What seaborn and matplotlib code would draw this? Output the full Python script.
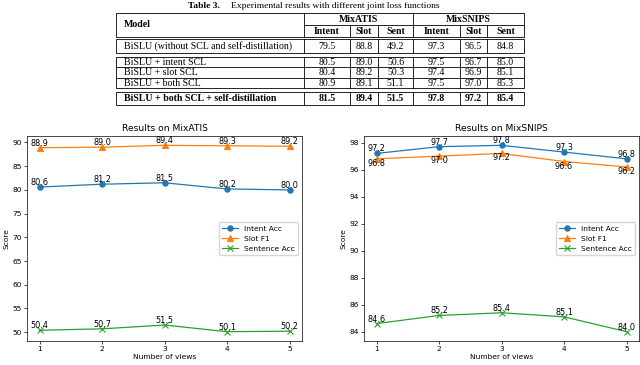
"""
Table 3 + results vs. number of views (MixATIS / MixSNIPS)
"""
import matplotlib
matplotlib.use("Agg")
import matplotlib.pyplot as plt
from matplotlib.patches import Rectangle
import seaborn as sns

# ---- table data ----
table_caption_head = "Table 3."
table_caption = "Experimental results with different joint loss functions"
table_groups = ["MixATIS", "MixSNIPS"]
table_metrics = ["Intent", "Slot", "Sent"]
table_models = [
    "BiSLU (without SCL and self-distillation)",
    "BiSLU + intent SCL",
    "BiSLU + slot SCL",
    "BiSLU + both SCL",
    "BiSLU + both SCL + self-distillation",
]
row_base = [79.5, 88.8, 49.2, 97.3, 96.5, 84.8]
row_intent_scl = [80.5, 89.0, 50.6, 97.5, 96.7, 85.0]
row_slot_scl = [80.4, 89.2, 50.3, 97.4, 96.9, 85.1]
row_both_scl = [80.9, 89.1, 51.1, 97.5, 97.0, 85.3]
row_full = [81.5, 89.4, 51.5, 97.8, 97.2, 85.4]

# ---- line chart data ----
views = [1, 2, 3, 4, 5]
atis_intent = [80.6, 81.2, 81.5, 80.2, 80.0]
atis_slot = [88.9, 89.0, 89.4, 89.3, 89.2]
atis_sent = [50.4, 50.7, 51.5, 50.1, 50.2]
snips_intent = [97.2, 97.7, 97.8, 97.3, 96.8]
snips_slot = [96.8, 97.0, 97.2, 96.6, 96.2]
snips_sent = [84.6, 85.2, 85.4, 85.1, 84.0]

W, H = 640, 365
fig = plt.figure(figsize=(W / 100, H / 100), dpi=100)

# ---------------- table (drawn in pixel coordinates) ----------------
tab = fig.add_axes([0, 0, 1, 1])
tab.set_xlim(0, W)
tab.set_ylim(H, 0)
tab.axis("off")

serif = "Liberation Serif"
tfs = 7.1
lw = 0.6
col_x = [116, 304, 350, 378, 413, 460, 487, 524]
head_top, head_mid, head_bot = 13, 25, 36.5
# each section is its own box -> looks like double rules between them
sections = [[39, 53], [56.5, 67.1, 77.7, 88.3], [91.5, 105]]
values = [row_base, row_intent_scl, row_slot_scl, row_both_scl, row_full]

tab.text(220, 5.5, table_caption_head, ha="right", va="center",
         family=serif, fontsize=6.8, weight="bold")
tab.text(231, 5.5, table_caption, ha="left", va="center",
         family=serif, fontsize=6.8)


def box(y0, y1):
    tab.add_patch(Rectangle((col_x[0], y0), col_x[-1] - col_x[0], y1 - y0,
                            fill=False, lw=lw, ec="black"))


# header
box(head_top, head_bot)
tab.plot([col_x[1], col_x[1]], [head_top, head_bot], color="black", lw=lw)
tab.plot([col_x[4], col_x[4]], [head_top, head_bot], color="black", lw=lw)
tab.plot([col_x[1], col_x[-1]], [head_mid, head_mid], color="black", lw=lw)
for cx in (col_x[2], col_x[3], col_x[5], col_x[6]):
    tab.plot([cx, cx], [head_mid, head_bot], color="black", lw=lw)
tab.text(col_x[0] + 8, (head_top + head_bot) / 2, "Model", ha="left",
         va="center", family=serif, fontsize=tfs, weight="bold")
for g, name in enumerate(table_groups):
    gx = (col_x[1 + 3 * g] + col_x[4 + 3 * g]) / 2
    tab.text(gx, (head_top + head_mid) / 2 + 0.5, name, ha="center",
             va="center", family=serif, fontsize=tfs, weight="bold")
    for m, met in enumerate(table_metrics):
        mx = (col_x[1 + 3 * g + m] + col_x[2 + 3 * g + m]) / 2
        tab.text(mx, (head_mid + head_bot) / 2 + 0.5, met, ha="center",
                 va="center", family=serif, fontsize=tfs, weight="bold")

# body
r = 0
for sec in sections:
    box(sec[0], sec[-1])
    for cx in col_x[1:-1]:
        tab.plot([cx, cx], [sec[0], sec[-1]], color="black", lw=lw)
    for k in range(len(sec) - 1):
        y0, y1 = sec[k], sec[k + 1]
        if k > 0:
            tab.plot([col_x[0], col_x[-1]], [y0, y0], color="black", lw=lw)
        yc = (y0 + y1) / 2 + 0.5
        wt = "bold" if r == len(table_models) - 1 else "normal"
        tab.text(col_x[0] + 8, yc, table_models[r], ha="left", va="center",
                 family=serif, fontsize=tfs, weight=wt)
        for c, v in enumerate(values[r]):
            tab.text((col_x[c + 1] + col_x[c + 2]) / 2, yc, f"{v:.1f}",
                     ha="center", va="center", family=serif, fontsize=tfs,
                     weight=wt)
        r += 1

# ---------------- line charts ----------------
fs = 5.4
colors = ["#1f77b4", "#ff7f0e", "#2ca02c"]


def draw(ax, intent, slot, sent, title, slot_below, yticks):
    series = [(intent, "o", "Intent Acc"), (slot, "^", "Slot F1"),
              (sent, "x", "Sentence Acc")]
    for (vals, mk, lab), col in zip(series, colors):
        sns.lineplot(x=views, y=vals, marker=mk, label=lab, color=col, ax=ax,
                     lw=0.9, markersize=3.8, mec=col, mew=0.8)
    for vals, va in ((intent, "bottom"), (slot, "top" if slot_below else "bottom"),
                     (sent, "bottom")):
        for x, y in zip(views, vals):
            ax.text(x, y, f"{y:.1f}", ha="center", va=va, fontsize=5.9)
    ax.set_title(title, fontsize=6.6, pad=3.5)
    ax.set_xlabel("Number of views", fontsize=fs, labelpad=1)
    ax.set_ylabel("Score", fontsize=fs, labelpad=2)
    ax.set_xticks(views)
    ax.set_yticks(yticks)
    ax.tick_params(labelsize=fs, length=2, width=0.5, pad=1.8)
    for s in ax.spines.values():
        s.set_linewidth(0.5)
    ax.legend(loc="center right", fontsize=fs, frameon=True, borderpad=0.4,
              handlelength=2.2)


ax1 = fig.add_axes([27 / W, 24 / H, 275 / W, 205 / H])
draw(ax1, atis_intent, atis_slot, atis_sent, "Results on MixATIS", False,
     list(range(50, 91, 5)))
ax2 = fig.add_axes([364 / W, 24 / H, 275 / W, 205 / H])
draw(ax2, snips_intent, snips_slot, snips_sent, "Results on MixSNIPS", True,
     list(range(84, 99, 2)))

fig.savefig("out.png", dpi=100)
plt.close(fig)
